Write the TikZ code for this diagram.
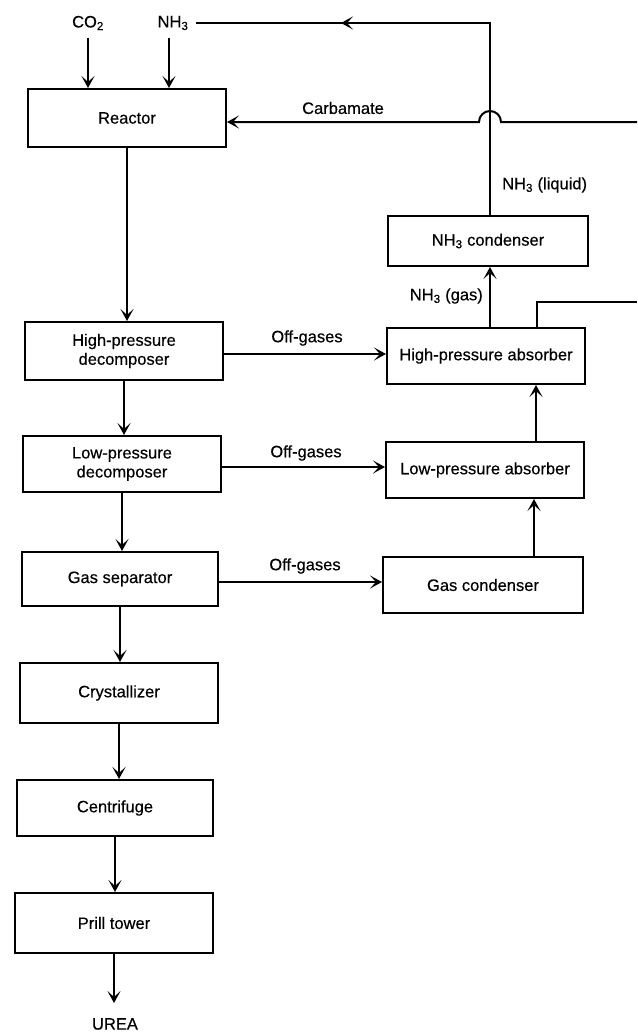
\documentclass[tikz,border=0pt]{standalone}
\usepackage{fontspec}
\setmainfont{Liberation Sans}[FakeBold=0.35]
\usetikzlibrary{arrows.meta}
\begin{document}
\begin{tikzpicture}[x=1pt,y=1pt,
  unitbox/.style={draw, line width=2pt, align=center, inner sep=0pt,
    font=\fontsize{16.5}{19}\selectfont},
  lbl/.style={inner sep=0pt, font=\fontsize{16.5}{19}\selectfont},
  pipe/.style={line width=2pt},
  flow/.style={line width=2pt, -{Stealth[length=12pt,width=13pt,inset=6pt]}}]
\useasboundingbox (0,0) rectangle (637,-1033);

% process units, main line
\node[unitbox, minimum width=198pt, minimum height=58pt] (reac) at (127,-118) {Reactor};
\node[unitbox, minimum width=198pt, minimum height=58pt] (hpd) at (124,-351) {High-pressure\\decomposer};
\node[unitbox, minimum width=198pt, minimum height=56pt] (lpd) at (122,-464) {Low-pressure\\decomposer};
\node[unitbox, minimum width=196pt, minimum height=54pt] (gs) at (120,-579) {Gas separator};
\node[unitbox, minimum width=198pt, minimum height=60pt] (cry) at (119,-693) {Crystallizer};
\node[unitbox, minimum width=196pt, minimum height=56pt] (cen) at (115,-808) {Centrifuge};
\node[unitbox, minimum width=198pt, minimum height=60pt] (pt) at (114,-923) {Prill tower};

% recovery units
\node[unitbox, minimum width=200pt, minimum height=50pt] (cond) at (488,-241) {NH\textsubscript{3} condenser};
\node[unitbox, minimum width=198pt, minimum height=56pt] (hpa) at (486,-356) {High-pressure absorber};
\node[unitbox, minimum width=198pt, minimum height=56pt] (lpa) at (485,-470) {Low-pressure absorber};
\node[unitbox, minimum width=200pt, minimum height=56pt] (gc) at (483,-585) {Gas condenser};

% stream labels
\node[lbl] (co2) at (88,-23) {CO\textsubscript{2}};
\node[lbl] (nh3in) at (173,-23) {NH\textsubscript{3}};
\node[lbl] (carb) at (343,-108) {Carbamate};
\node[lbl, anchor=west] (liq) at (502,-185) {NH\textsubscript{3} (liquid)};
\node[lbl, anchor=east] (gas) at (483,-296) {NH\textsubscript{3} (gas)};
\node[lbl] (og1) at (307,-338) {Off-gases};
\node[lbl] (og2) at (306,-453) {Off-gases};
\node[lbl] (og3) at (305,-566) {Off-gases};
\node[lbl] (urea) at (115,-1024) {UREA};

% auxiliary points
\coordinate (cofeed) at (88,-38);
\coordinate (nhfeed) at (169,-38);
\coordinate (ret) at (490,-23);
\coordinate (rettip) at (341,-23);
\coordinate (carbin) at (637,-122);
\coordinate (hop) at (501,-122);
\coordinate (absup) at (537,-302);
\coordinate (absout) at (637,-302);

% feeds
\draw[flow] (cofeed) -- (cofeed |- reac.north);
\draw[flow] (nhfeed) -- (nhfeed |- reac.north);

% ammonia recycle
\draw[pipe] (490,0 |- cond.north) -- (ret) -- ([xshift=7pt]nh3in.east);
\draw[flow] (ret) -- (rettip);
\draw[flow] (490,0 |- hpa.north) -- (490,0 |- cond.south);

% carbamate return, hopping over the ammonia line
\draw[flow] (carbin) -- (hop) arc[start angle=0, end angle=180, radius=11pt]
  -- (reac.east |- carbin);
\draw[pipe] (absup |- hpa.north) -- (absup) -- (absout);

% main product line
\draw[flow] (reac.south) -- (reac.south |- hpd.north);
\draw[flow] (hpd.south) -- (hpd.south |- lpd.north);
\draw[flow] (lpd.south) -- (lpd.south |- gs.north);
\draw[flow] (gs.south) -- (gs.south |- cry.north);
\draw[flow] (cry.south) -- (cry.south |- cen.north);
\draw[flow] (cen.south) -- (cen.south |- pt.north);
\draw[flow] (pt.south) -- ([yshift=15pt]pt.south |- urea.north);

% off-gases
\draw[flow] ([yshift=-3pt]hpd.east) -- ([yshift=-3pt]hpd.east -| hpa.west);
\draw[flow] ([yshift=-3pt]lpd.east) -- ([yshift=-3pt]lpd.east -| lpa.west);
\draw[flow] ([yshift=-3pt]gs.east) -- ([yshift=-3pt]gs.east -| gc.west);
\draw[flow] (534,0 |- gc.north) -- (534,0 |- lpa.south);
\draw[flow] (536,0 |- lpa.north) -- (536,0 |- hpa.south);
\end{tikzpicture}
\end{document}
